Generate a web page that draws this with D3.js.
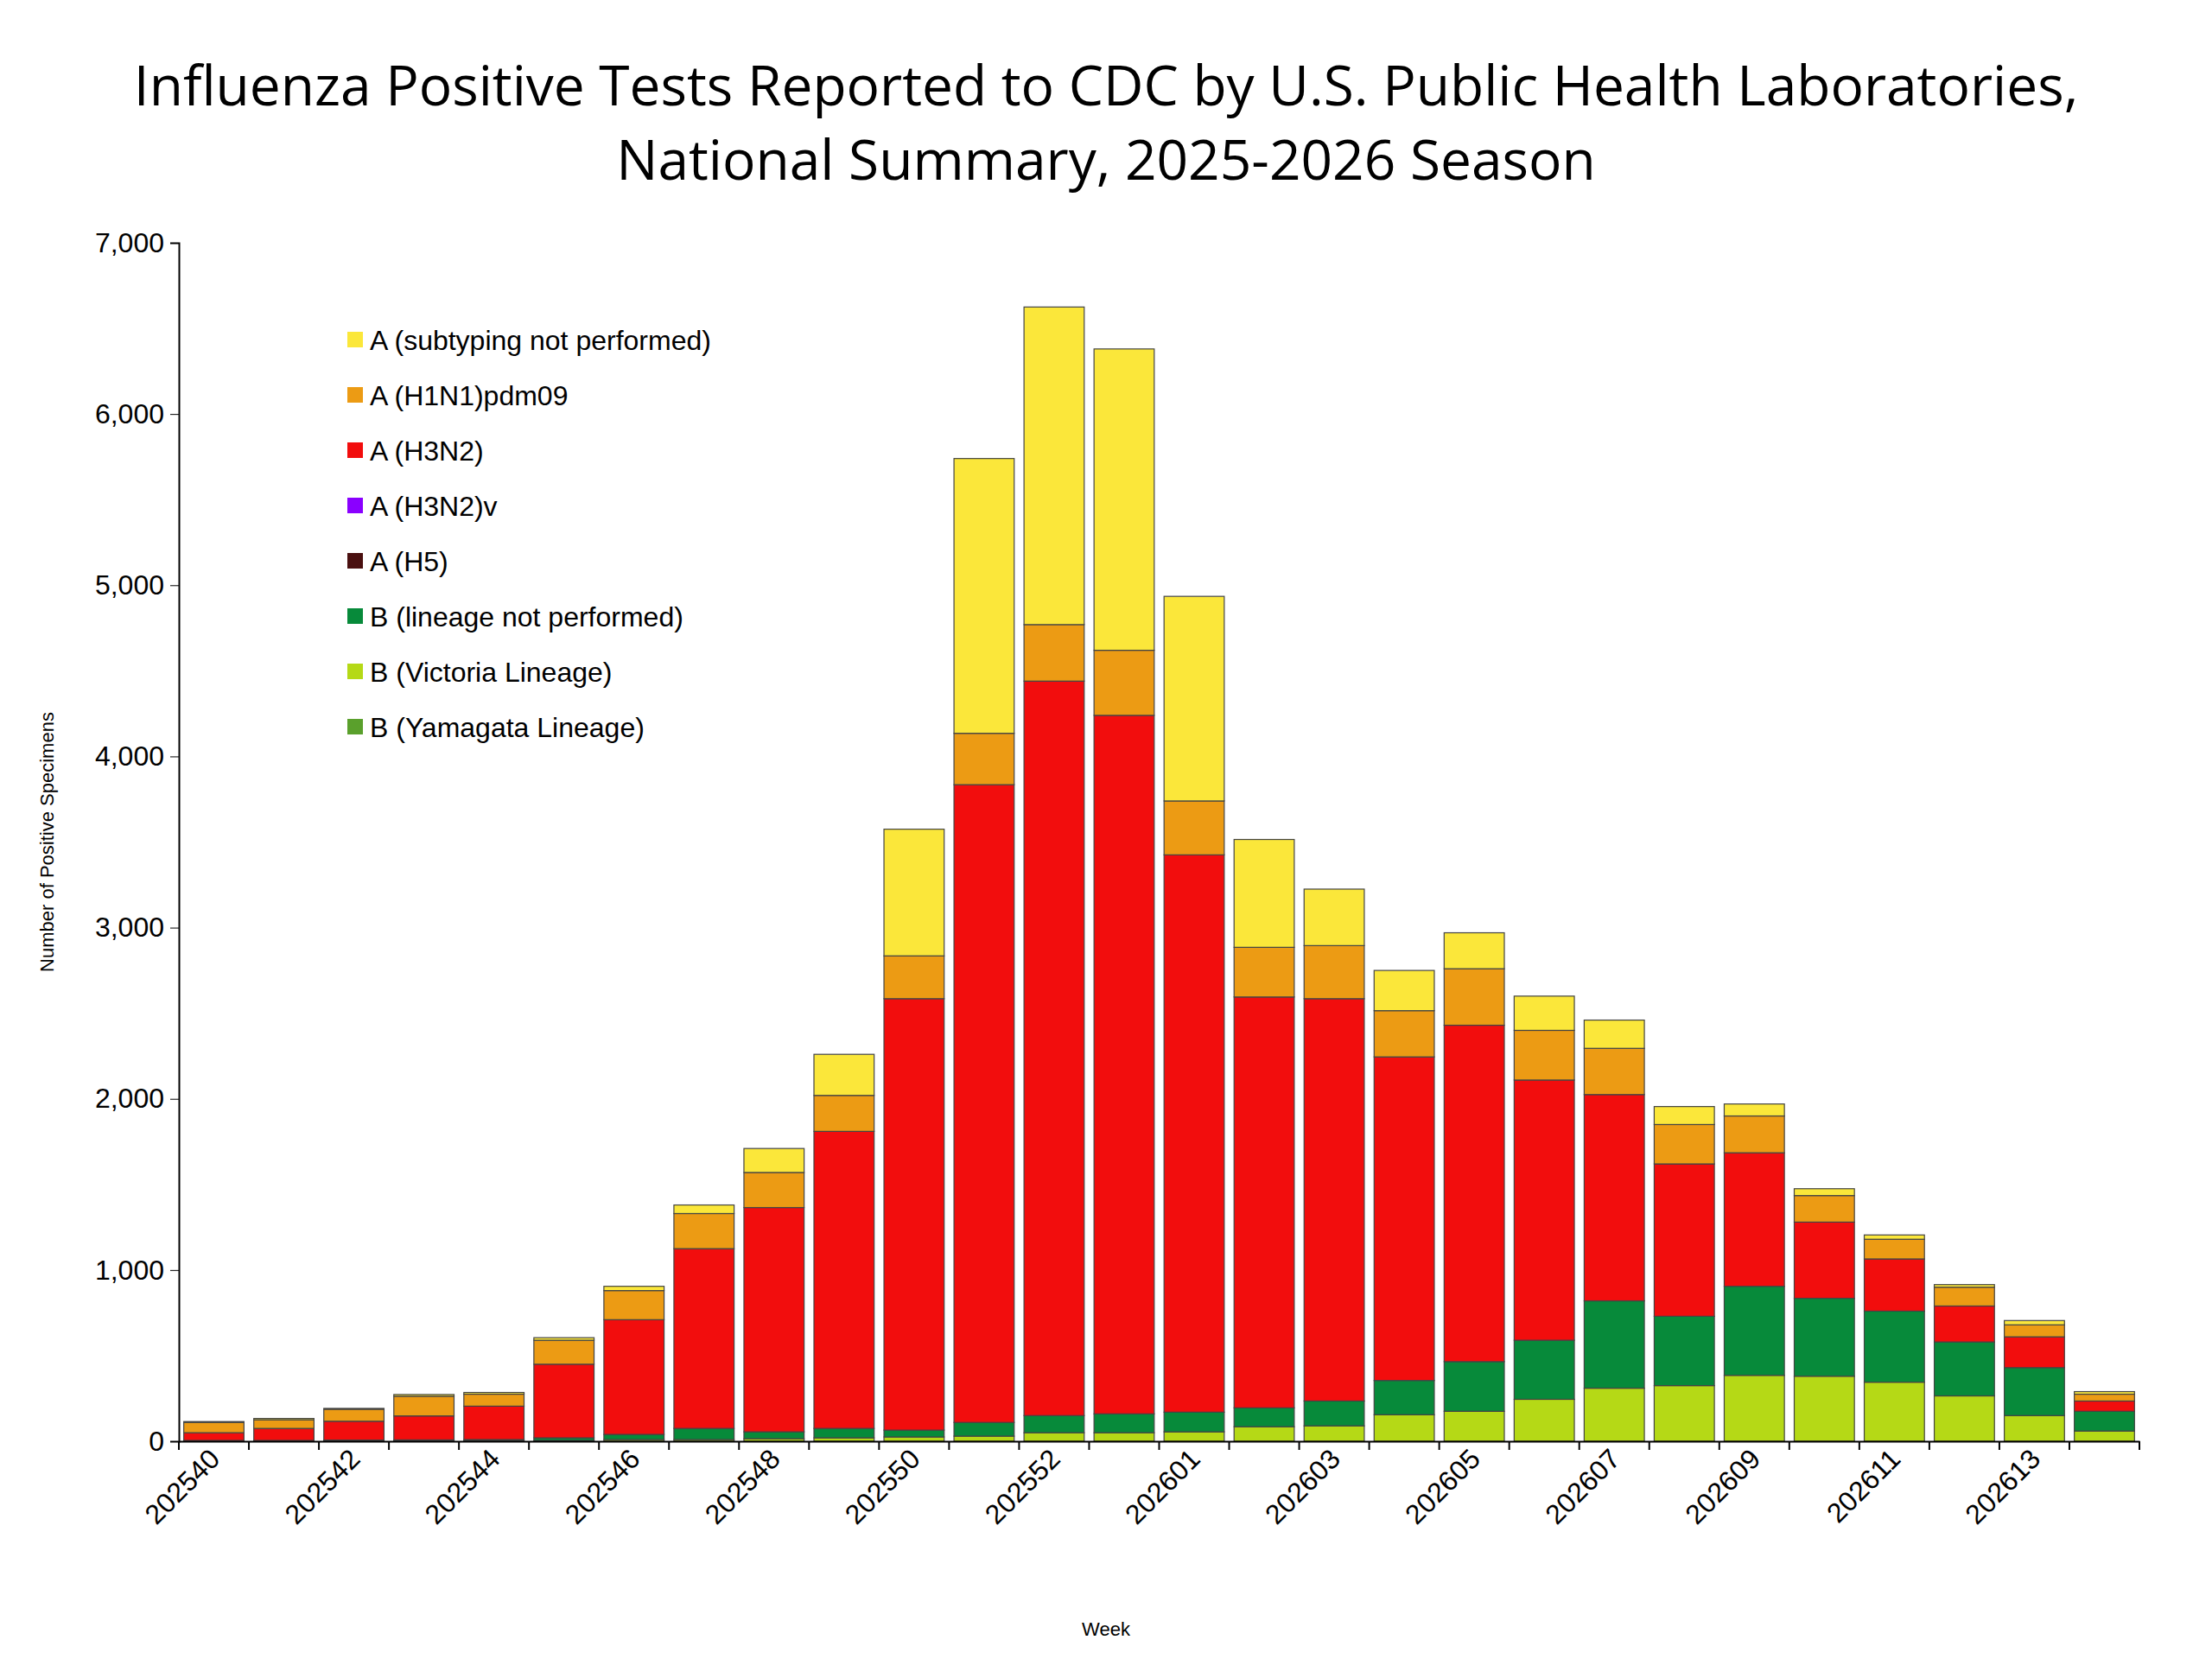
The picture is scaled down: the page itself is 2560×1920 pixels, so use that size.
<!DOCTYPE html>
<html><head><meta charset="utf-8">
<script src="https://cdn.jsdelivr.net/npm/d3@7"></script>
<style>body{margin:0;background:#fff}</style></head>
<body><svg width="2560" height="1920"></svg>
<script>
var weeks = ["202540","202541","202542","202543","202544","202545","202546","202547","202548","202549","202550","202551","202552","202553",
  "202601","202602","202603","202604","202605","202606","202607","202608","202609","202610","202611","202612","202613","202614"];
var bVictoria = [2,2,3,3,3,5,10,10,15,20,25,30,50,50,55,85,90,155,175,245,310,325,385,380,345,265,150,60];
var bYamagata = weeks.map(() => 0);
var bNotPerformed = [3,3,4,5,7,15,30,65,40,55,40,80,100,110,115,110,145,200,290,345,510,405,520,455,415,315,280,115];
var aH5 = weeks.map(() => 0);
var aH3N2v = weeks.map(() => 0);
var aH3N2 = [45,70,110,140,195,430,670,1050,1310,1735,2520,3725,4290,4080,3255,2400,2350,1890,1965,1520,1205,890,780,445,305,210,180,60];
var aH1N1 = [60,50,70,115,70,140,170,205,205,210,250,300,330,380,315,290,310,270,330,290,270,230,215,155,115,110,70,40];
var aUnsub = [5,8,5,10,10,15,25,50,140,240,740,1605,1855,1760,1195,630,330,235,210,200,165,105,70,40,25,15,25,15];

var series = [
  {name:"B (Victoria Lineage)", values:bVictoria, color:"#b5d916"},
  {name:"B (Yamagata Lineage)", values:bYamagata, color:"#5aa02c"},
  {name:"B (lineage not performed)", values:bNotPerformed, color:"#078a3a"},
  {name:"A (H5)", values:aH5, color:"#4a1010"},
  {name:"A (H3N2)v", values:aH3N2v, color:"#8a00ff"},
  {name:"A (H3N2)", values:aH3N2, color:"#f20d0d"},
  {name:"A (H1N1)pdm09", values:aH1N1, color:"#ec9b14"},
  {name:"A (subtyping not performed)", values:aUnsub, color:"#fbe73a"}
];
var legendOrder = ["A (subtyping not performed)","A (H1N1)pdm09","A (H3N2)","A (H3N2)v","A (H5)","B (lineage not performed)","B (Victoria Lineage)","B (Yamagata Lineage)"];

var svg = d3.select("svg");
var mLeft = 207, mRight = 2476, mTop = 281, mBottom = 1668;

var rows = weeks.map((w, i) => {
  var r = {week: w};
  series.forEach(s => r[s.name] = s.values[i]);
  return r;
});
var stack = d3.stack().keys(series.map(s => s.name))(rows);

var x = d3.scaleBand().domain(weeks).range([mLeft, mRight]).paddingInner(0.14).paddingOuter(0.07);
var y = d3.scaleLinear().domain([0, 7000]).range([mBottom, mTop]);

svg.append("g").selectAll("text")
  .data(["Influenza Positive Tests Reported to CDC by U.S. Public Health Laboratories,", "National Summary, 2025-2026 Season"])
  .enter().append("text")
  .attr("x", 1280).attr("y", (d, i) => 122 + i * 86)
  .attr("text-anchor", "middle")
  .style("font-family", "Open Sans, sans-serif").style("font-size", "64px")
  .text(d => d);

stack.forEach((layer, k) => {
  svg.append("g").selectAll("rect")
    .data(layer.filter(d => d[1] > d[0]))
    .enter().append("rect")
    .attr("x", d => x(d.data.week))
    .attr("width", x.bandwidth())
    .attr("y", d => y(d[1]))
    .attr("height", d => y(d[0]) - y(d[1]))
    .attr("fill", series[k].color)
    .attr("stroke", "#444").attr("stroke-width", 1.2);
});

var yAxis = svg.append("g").attr("transform", "translate(" + mLeft + ",0)")
  .call(d3.axisLeft(y).tickValues(d3.range(0, 7001, 1000)).tickFormat(d3.format(",")).tickSize(10));
yAxis.selectAll("text").style("font-family", "Liberation Sans, Arial").style("font-size", "32px").attr("dx", "-4");
yAxis.select(".domain").attr("stroke", "#000").attr("stroke-width", 2);

var xAxis = svg.append("g").attr("transform", "translate(0," + mBottom + ")")
  .call(d3.axisBottom(x).tickValues(weeks.filter((w, i) => i % 2 == 0)).tickSize(0));
xAxis.select(".domain").attr("stroke", "#000").attr("stroke-width", 2);
xAxis.selectAll("text")
  .style("font-family", "Liberation Sans, Arial").style("font-size", "32px")
  .attr("text-anchor", "end").attr("dx", "-0.3em").attr("dy", "0.6em")
  .attr("transform", "rotate(-45)");
// tick marks between bars
svg.append("g").selectAll("line").data(weeks.concat(["end"]))
  .enter().append("line")
  .attr("x1", (d, i) => mLeft + i * x.step()).attr("x2", (d, i) => mLeft + i * x.step())
  .attr("y1", mBottom).attr("y2", mBottom + 10)
  .attr("stroke", "#000").attr("stroke-width", 2);

svg.append("text").attr("transform", "translate(62," + ((mTop + mBottom) / 2) + ") rotate(-90)")
  .attr("text-anchor", "middle")
  .style("font-family", "Liberation Sans, Arial").style("font-size", "22px")
  .text("Number of Positive Specimens");
svg.append("text").attr("x", 1280).attr("y", 1893).attr("text-anchor", "middle")
  .style("font-family", "Liberation Sans, Arial").style("font-size", "22px").text("Week");

var legend = svg.append("g").selectAll("g").data(legendOrder)
  .enter().append("g").attr("transform", (d, i) => "translate(402," + (394 + i * 64) + ")");
legend.append("rect").attr("x", 0).attr("y", -10).attr("width", 18).attr("height", 18)
  .attr("fill", d => series.find(s => s.name == d).color);
legend.append("text").attr("x", 26).attr("y", 0).attr("dy", "0.35em")
  .style("font-family", "Liberation Sans, Arial").style("font-size", "32px").text(d => d);
</script></body></html>
